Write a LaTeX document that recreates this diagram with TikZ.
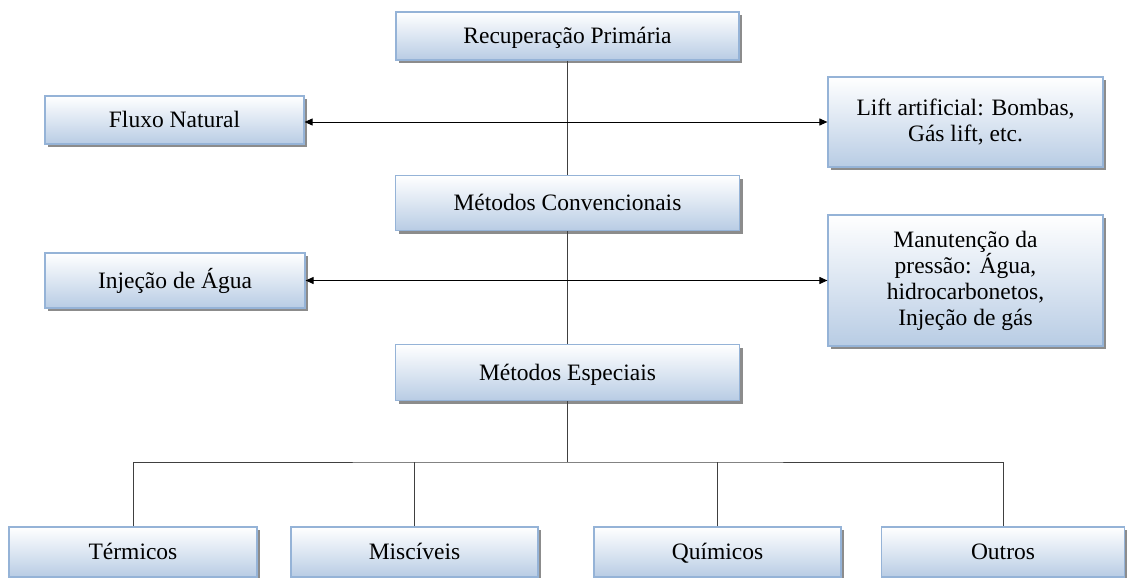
\documentclass[tikz,border=0pt]{standalone}
\usepackage{fontspec}
\setmainfont{Liberation Serif}
\usetikzlibrary{shadows,arrows.meta}
\definecolor{boxborder}{RGB}{149,179,215}
\definecolor{boxbottom}{RGB}{184,204,228}
\definecolor{linkgray}{RGB}{64,64,64}
\tikzset{
  blockbox/.style={draw=boxborder, line width=1.2pt, top color=white, bottom color=boxbottom,
    middle color={rgb,255:red,220;green,230;blue,242},
    drop shadow={shadow xshift=3pt, shadow yshift=-3pt, fill=black!45, opacity=1},
    inner sep=0pt, font=\fontsize{23.5}{26}\selectfont},
  onebox/.style={blockbox, text height=19pt, text depth=4pt},
  multibox/.style={blockbox, align=center},
  link/.style={draw=linkgray, line width=1pt},
  dblarrow/.style={draw=black, line width=1pt, {Triangle[length=8pt,width=7pt]}-{Triangle[length=8pt,width=7pt]}}
}
\begin{document}
\begin{tikzpicture}[x=1pt,y=-1pt]
\useasboundingbox (0,0) rectangle (1127,578);
% boxes
\node[onebox, minimum width=343pt, minimum height=48pt] (rp) at (567.5,36) {Recuperação Primária};
\node[onebox, minimum width=259pt, minimum height=48pt] (fn) at (174.5,120) {Fluxo Natural};
\node[multibox, minimum width=275pt, minimum height=90pt] (lift) at (965.5,122) {Lift artificial: Bombas,\\Gás lift, etc.};
\node[onebox, minimum width=344pt, minimum height=55pt] (mc) at (567.5,203) {Métodos Convencionais};
\node[onebox, minimum width=260pt, minimum height=55pt] (ia) at (175,280.5) {Injeção de Água};
\node[multibox, minimum width=275pt, minimum height=131pt] (mp) at (965.5,280.5) {Manutenção da\\pressão: Água,\\hidrocarbonetos,\\Injeção de gás};
\node[onebox, minimum width=344pt, minimum height=56pt] (me) at (567.5,372.5) {Métodos Especiais};
\node[onebox, minimum width=248pt, minimum height=50pt] (te) at (133,552) {Térmicos};
\node[onebox, minimum width=247pt, minimum height=50pt] (mi) at (414.5,552) {Miscíveis};
\node[onebox, minimum width=247pt, minimum height=50pt] (qu) at (717.5,552) {Químicos};
\node[onebox, minimum width=243pt, minimum height=50pt] (ou) at (1003,552) {Outros};
\coordinate (bus) at (567.5,462);
% connectors
\draw[link] (rp.south) -- (mc.north);
\draw[link] (mc.south) -- (me.north);
\draw[dblarrow] (lift.west -| fn.east) -- (lift.west);
\draw[dblarrow] (mp.west -| ia.east) -- (mp.west);
\draw[link] (me.south) -- (bus);
\draw[link] (te.north) |- (bus) -| (ou.north);
\draw[link] (mi.north) -- (mi.north |- bus);
\draw[link] (qu.north) -- (qu.north |- bus);
\end{tikzpicture}
\end{document}
